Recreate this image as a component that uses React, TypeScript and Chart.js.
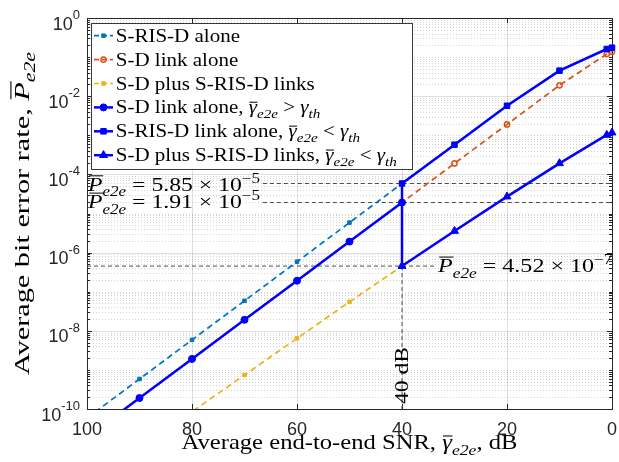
import React, { useEffect, useRef } from "react";
import { Chart, registerables } from "chart.js";

Chart.register(...registerables);

// ---------------- data ----------------
const snrDb = [100, 90, 80, 70, 60, 50, 40, 30, 20, 10, 1, 0];
const berSrisdAlone = [5.85e-11, 5.85e-10, 5.85e-9, 5.85e-8, 5.85e-7, 5.85e-6, 5.85e-5, 5.75e-4, 5.7e-3, 4.5e-2, 0.161, 0.174];
const berSdAlone = [1.91e-11, 1.91e-10, 1.91e-9, 1.91e-8, 1.91e-7, 1.91e-6, 1.91e-5, 1.91e-4, 1.9e-3, 1.9e-2, 0.12, 0.137];
const berSdPlusSrisd = [1.1e-12, 9.5e-12, 8.5e-11, 7.4e-10, 6.4e-9, 5.5e-8, 4.52e-7, 3.56e-6, 2.7e-5, 1.92e-4, 1.02e-3, 1.17e-3];

const snrAboveTh = [100, 90, 80, 70, 60, 50, 40];
const berSdAboveTh = [1.91e-11, 1.91e-10, 1.91e-9, 1.91e-8, 1.91e-7, 1.91e-6, 1.91e-5];
const snrBelowTh = [40, 30, 20, 10, 1, 0];
const berSrisdBelowTh = [5.85e-5, 5.75e-4, 5.7e-3, 4.5e-2, 0.161, 0.174];
const berSdPlusBelowTh = [4.52e-7, 3.56e-6, 2.7e-5, 1.92e-4, 1.02e-3, 1.17e-3];

const thresholdSnr = 40;
const switchBer = [5.85e-5, 4.52e-7];
const markedBer = [5.85e-5, 1.91e-5, 4.52e-7];

const xTickValues = [100, 80, 60, 40, 20, 0];
const yTickExponents = [0, -2, -4, -6, -8, -10];
const legendNames = [
  "S-RIS-D alone",
  "S-D link alone",
  "S-D plus S-RIS-D links",
  "S-D link alone, ",
  "S-RIS-D link alone, ",
  "S-D plus S-RIS-D links, ",
];
const legendRelations = ["", "", "", " > ", " < ", " < "];

// ---------------- styles ----------------
const C_BLUE = "#0072BD";
const C_ORANGE = "#D95319";
const C_YELLOW = "#EDB120";
const C_SOLID = "#0000FF";
const SERIF = '"Liberation Serif", "Times New Roman", serif';
const SANS = '"Liberation Sans", Arial, sans-serif';

type Seg = { t: string; it?: boolean; sub?: boolean; sup?: boolean; over?: boolean };

function segFont(s: Seg, size: number) {
  const sz = s.sub || s.sup ? size * 0.72 : size;
  return `${s.it ? "italic " : ""}${sz}px ${SERIF}`;
}
function richWidth(ctx: CanvasRenderingContext2D, segs: Seg[], size: number) {
  let w = 0;
  for (const s of segs) {
    ctx.font = segFont(s, size);
    w += ctx.measureText(s.t).width;
  }
  return w;
}
function drawRichRaw(ctx: CanvasRenderingContext2D, segs: Seg[], size: number) {
  let x = 0;
  for (const s of segs) {
    ctx.font = segFont(s, size);
    const w = ctx.measureText(s.t).width;
    const dy = s.sub ? size * 0.28 : s.sup ? -size * 0.42 : 0;
    ctx.fillText(s.t, x, dy);
    if (s.over) {
      const oy = s.t === "P" ? -size * 0.8 : -size * 0.62;
      ctx.beginPath();
      ctx.lineWidth = Math.max(1, size * 0.05);
      ctx.moveTo(x + w * 0.08, oy);
      ctx.lineTo(x + w * 1.05, oy);
      ctx.stroke();
    }
    x += w;
  }
}
function placeRich(
  ctx: CanvasRenderingContext2D,
  segs: Seg[],
  size: number,
  x: number,
  y: number,
  width: number,
  align: "left" | "center",
  rotate = false,
  sxOverride?: number
) {
  const raw = richWidth(ctx, segs, size);
  const sx = sxOverride ?? width / raw;
  const w = raw * sx;
  ctx.save();
  ctx.translate(x, y);
  if (rotate) ctx.rotate(-Math.PI / 2);
  ctx.translate(align === "center" ? -w / 2 : 0, 0);
  ctx.scale(sx, 1);
  ctx.textAlign = "left";
  ctx.textBaseline = "alphabetic";
  drawRichRaw(ctx, segs, size);
  ctx.restore();
}

function drawMarker(
  ctx: CanvasRenderingContext2D,
  style: string,
  x: number,
  y: number,
  r: number,
  color: string,
  filled: boolean,
  bw: number
) {
  ctx.beginPath();
  if (style === "circle") {
    ctx.arc(x, y, r, 0, Math.PI * 2);
  } else if (style === "rect") {
    const s = Math.SQRT1_2 * r;
    ctx.rect(x - s, y - s, 2 * s, 2 * s);
  } else {
    let rad = 0;
    ctx.moveTo(x + Math.sin(rad) * r, y - Math.cos(rad) * r);
    rad += (2 * Math.PI) / 3;
    ctx.lineTo(x + Math.sin(rad) * r, y - Math.cos(rad) * r);
    rad += (2 * Math.PI) / 3;
    ctx.lineTo(x + Math.sin(rad) * r, y - Math.cos(rad) * r);
    ctx.closePath();
  }
  ctx.setLineDash([]);
  ctx.lineWidth = bw;
  ctx.strokeStyle = color;
  if (filled) {
    ctx.fillStyle = color;
    ctx.fill();
  }
  ctx.stroke();
}

const pts = (xs: number[], ys: number[]) => xs.map((x, i) => ({ x, y: ys[i] }));

function sci(v: number) {
  const e = Math.floor(Math.log10(v));
  const m = v / Math.pow(10, e);
  return { m: m.toFixed(2), e };
}

const legendStyles = [
  { color: C_BLUE, dashed: true, marker: "rect", r: 2.5, filled: true, lw: 1.7 },
  { color: C_ORANGE, dashed: true, marker: "circle", r: 2.6, filled: false, lw: 1.7 },
  { color: C_YELLOW, dashed: true, marker: "rect", r: 2.5, filled: true, lw: 1.7 },
  { color: C_SOLID, dashed: false, marker: "circle", r: 3.5, filled: true, lw: 2.5 },
  { color: C_SOLID, dashed: false, marker: "rect", r: 3.9, filled: true, lw: 2.5 },
  { color: C_SOLID, dashed: false, marker: "triangle", r: 4.6, filled: true, lw: 2.5 },
];

const decorPlugin = {
  id: "matlabDecor",
  beforeDatasetsDraw(chart: any) {
    const { ctx, chartArea: a, scales } = chart;
    const xs = scales.x;
    const ys = scales.y;
    const L = a.left, R = a.right, T = a.top, B = a.bottom;
    ctx.save();
    ctx.fillStyle = "#fff";
    ctx.fillRect(L, T, R - L, B - T);
    const hline = (x0: number, x1: number, y: number) => {
      ctx.beginPath();
      ctx.moveTo(x0, y);
      ctx.lineTo(x1, y);
      ctx.stroke();
    };
    const vline = (x: number, y0: number, y1: number) => {
      ctx.beginPath();
      ctx.moveTo(x, y0);
      ctx.lineTo(x, y1);
      ctx.stroke();
    };
    const minorVals: number[] = [];
    for (let k = -10; k < 0; k++) {
      for (let m = 1; m < 10; m++) {
        if (m === 1 && k % 2 === 0) continue;
        minorVals.push(m * Math.pow(10, k));
      }
    }
    // minor grid
    ctx.lineWidth = 1;
    ctx.strokeStyle = "rgba(38,38,38,0.2)";
    ctx.setLineDash([1, 2]);
    for (const v of minorVals) {
      const py = Math.round(ys.getPixelForValue(v)) + 0.5;
      hline(L, R, py);
    }
    ctx.setLineDash([]);
    // major grid
    ctx.strokeStyle = "rgba(38,38,38,0.15)";
    for (const e of yTickExponents) {
      const py = Math.round(ys.getPixelForValue(Math.pow(10, e))) + 0.5;
      hline(L, R, py);
    }
    for (const v of xTickValues) {
      const px = Math.round(xs.getPixelForValue(v)) + 0.5;
      vline(px, T, B);
    }
    // axes box + ticks
    ctx.strokeStyle = "#262626";
    ctx.lineWidth = 1;
    ctx.strokeRect(L + 0.5, T + 0.5, R - L, B - T);
    for (const v of xTickValues) {
      const px = Math.round(xs.getPixelForValue(v)) + 0.5;
      vline(px, B, B - 5);
      vline(px, T, T + 5);
    }
    for (const e of yTickExponents) {
      const py = Math.round(ys.getPixelForValue(Math.pow(10, e))) + 0.5;
      hline(L, L + 5, py);
      hline(R - 5, R, py);
    }
    for (const v of minorVals) {
      const py = Math.round(ys.getPixelForValue(v)) + 0.5;
      hline(L, L + 3, py);
      hline(R - 3, R, py);
    }
    ctx.restore();
  },
  afterDatasetsDraw(chart: any) {
    const { ctx, chartArea: a, scales } = chart;
    const xs = scales.x;
    const ys = scales.y;
    const L = a.left, B = a.bottom;
    ctx.save();
    // tick labels
    ctx.fillStyle = "#262626";
    ctx.textBaseline = "alphabetic";
    ctx.font = `18px ${SANS}`;
    ctx.textAlign = "center";
    for (const v of xTickValues) {
      const px = xs.getPixelForValue(v);
      ctx.fillText(String(v), px, 435);
    }
    ctx.textAlign = "right";
    for (const e of yTickExponents) {
      const py = ys.getPixelForValue(Math.pow(10, e));
      const expStr = String(e);
      ctx.font = `13px ${SANS}`;
      const ew = ctx.measureText(expStr).width;
      ctx.fillText(expStr, L - 7, py + 1);
      ctx.font = `18px ${SANS}`;
      ctx.fillText("10", L - 7 - ew, py + 11.5);
    }
    // axis titles
    ctx.fillStyle = "#000";
    ctx.strokeStyle = "#000";
    const xTitle: Seg[] = [
      { t: "Average end-to-end SNR, " },
      { t: "γ", it: true, over: true },
      { t: "e2e", it: true, sub: true },
      { t: ", dB" },
    ];
    placeRich(ctx, xTitle, 21, (a.left + a.right) / 2, 449, 336, "center");
    const yTitle: Seg[] = [
      { t: "Average bit error rate, " },
      { t: "P", it: true, over: true },
      { t: "e2e", it: true, sub: true },
    ];
    placeRich(ctx, yTitle, 22, 28.5, (a.top + a.bottom) / 2, 323, "center", true);

    // annotation labels
    const labelLeft = [88, 88, 438];
    const labelWidth = [172, 172, 174.5];
    const labelDy = [7.5, 5.8, 6.2];
    markedBer.forEach((v, i) => {
      const { m, e } = sci(v);
      const segs: Seg[] = [
        { t: "P", it: true, over: true },
        { t: "e2e", it: true, sub: true },
        { t: ` = ${m} × 10` },
        { t: `−${Math.abs(e)}`, sup: true },
      ];
      placeRich(ctx, segs, 19, labelLeft[i], ys.getPixelForValue(v) + labelDy[i], labelWidth[i], "left");
    });
    // threshold label
    placeRich(ctx, [{ t: `${thresholdSnr} dB` }], 18, xs.getPixelForValue(thresholdSnr) + 6, B - 5, 57, "left", true);

    // legend
    const bx0 = 91.5, by0 = 23.5, bx1 = 412.5, by1 = 169.5;
    ctx.fillStyle = "#fff";
    ctx.fillRect(bx0, by0, bx1 - bx0, by1 - by0);
    ctx.strokeStyle = "#3a3a3a";
    ctx.lineWidth = 1;
    ctx.setLineDash([]);
    ctx.strokeRect(bx0, by0, bx1 - bx0, by1 - by0);
    const legSize = 18;
    const refSegs: Seg[] = [{ t: legendNames[2] }];
    const legSx = 199 / richWidth(ctx, refSegs, legSize);
    legendNames.forEach((name, i) => {
      const cy = 35.7 + i * 23.9;
      const st = legendStyles[i];
      ctx.save();
      ctx.strokeStyle = st.color;
      ctx.lineWidth = st.lw;
      ctx.setLineDash(st.dashed ? [5, 3] : []);
      ctx.beginPath();
      ctx.moveTo(94, cy);
      ctx.lineTo(113, cy);
      ctx.stroke();
      ctx.restore();
      drawMarker(ctx, st.marker, 103.5, cy, st.r, st.color, st.filled, st.filled ? 1 : 1.5);
      const segs: Seg[] = [{ t: name }];
      if (legendRelations[i]) {
        segs.push(
          { t: "γ", it: true, over: true },
          { t: "e2e", it: true, sub: true },
          { t: legendRelations[i] },
          { t: "γ", it: true },
          { t: "th", it: true, sub: true }
        );
      }
      ctx.fillStyle = "#000";
      ctx.strokeStyle = "#000";
      placeRich(ctx, segs, legSize, 115.7, cy + 6, 0, "left", false, legSx);
    });
    ctx.restore();
  },
};

export default function App() {
  const ref = useRef<HTMLCanvasElement | null>(null);
  useEffect(() => {
    const canvas = ref.current;
    if (!canvas) return;
    const dashedBase = {
      borderWidth: 1.7,
      borderDash: [6, 4],
      pointBorderWidth: 1,
      order: 3,
      clip: { left: 0, bottom: 0, top: 8, right: 8 },
    };
    const solidBase = {
      borderWidth: 2.5,
      borderColor: C_SOLID,
      pointBackgroundColor: C_SOLID,
      pointBorderColor: C_SOLID,
      pointBorderWidth: 1,
      order: 1,
      clip: { left: 0, bottom: 0, top: 8, right: 8 },
    };
    const refBase = {
      borderColor: "#4d4d4d",
      borderWidth: 1,
      borderDash: [4, 3],
      pointRadius: 0,
      order: 5,
    };
    const chart = new Chart(canvas, {
      type: "line",
      data: {
        datasets: [
          { ...refBase, data: [{ x: 66.5, y: markedBer[0] }, { x: 0, y: markedBer[0] }] },
          { ...refBase, data: [{ x: 66.5, y: markedBer[1] }, { x: 0, y: markedBer[1] }] },
          { ...refBase, data: [{ x: 100, y: markedBer[2] }, { x: 33.5, y: markedBer[2] }] },
          { ...refBase, data: [{ x: thresholdSnr, y: markedBer[2] }, { x: thresholdSnr, y: 1e-10 }] },
          {
            ...dashedBase,
            label: legendNames[0],
            data: pts(snrDb, berSrisdAlone),
            borderColor: C_BLUE,
            pointStyle: "rect",
            pointRadius: 2.5,
            pointBackgroundColor: C_BLUE,
            pointBorderColor: C_BLUE,
          },
          {
            ...dashedBase,
            label: legendNames[1],
            data: pts(snrDb, berSdAlone),
            borderColor: C_ORANGE,
            pointStyle: "circle",
            pointRadius: 2.6,
            pointBorderWidth: 1.5,
            pointBackgroundColor: "rgba(0,0,0,0)",
            pointBorderColor: C_ORANGE,
          },
          {
            ...dashedBase,
            label: legendNames[2],
            data: pts(snrDb, berSdPlusSrisd),
            borderColor: C_YELLOW,
            pointStyle: "rect",
            pointRadius: 2.5,
            pointBackgroundColor: C_YELLOW,
            pointBorderColor: C_YELLOW,
          },
          {
            ...solidBase,
            label: legendNames[3],
            data: pts(snrAboveTh, berSdAboveTh),
            pointStyle: "circle",
            pointRadius: 3.5,
          },
          {
            ...solidBase,
            label: legendNames[4],
            data: pts(snrBelowTh, berSrisdBelowTh),
            pointStyle: "rect",
            pointRadius: 3.9,
          },
          {
            ...solidBase,
            label: legendNames[5],
            data: pts(snrBelowTh, berSdPlusBelowTh),
            pointStyle: "triangle",
            pointRadius: 4.6,
          },
          {
            ...solidBase,
            data: [{ x: thresholdSnr, y: switchBer[0] }, { x: thresholdSnr, y: switchBer[1] }],
            pointRadius: 0,
          },
        ] as any,
      },
      options: {
        responsive: false,
        animation: false,
        devicePixelRatio: 1,
        layout: { padding: { left: 87, right: 7, top: 18, bottom: 53 } },
        plugins: { legend: { display: false }, tooltip: { enabled: false } },
        elements: { line: { tension: 0 } },
        scales: {
          x: { type: "linear", min: 0, max: 100, reverse: true, display: false },
          y: { type: "logarithmic", min: 1e-10, max: 1, display: false },
        },
      } as any,
      plugins: [decorPlugin],
    });
    return () => chart.destroy();
  }, []);
  return (
    <div style={{ position: "fixed", left: 0, top: 0, width: 619, height: 462, background: "#fff" }}>
      <canvas ref={ref} width={619} height={462} style={{ display: "block", width: 619, height: 462 }} />
    </div>
  );
}
